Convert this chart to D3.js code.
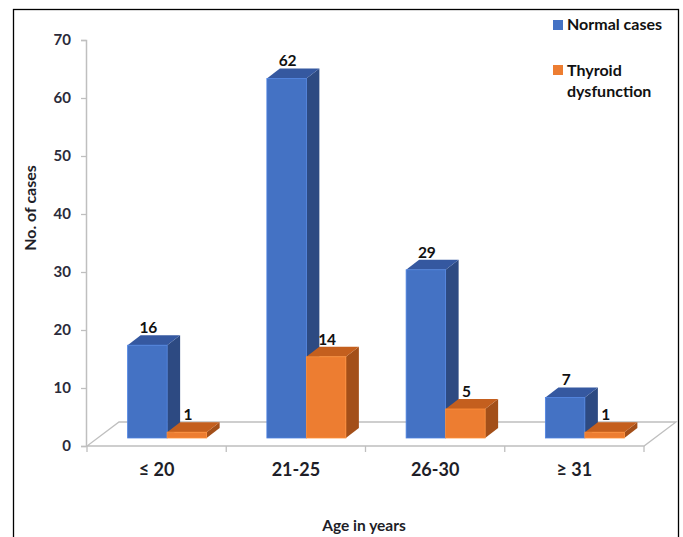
<!DOCTYPE html>
<html>
<head>
<meta charset="utf-8">
<script src="https://cdn.jsdelivr.net/npm/d3@7/dist/d3.min.js"></script>
<style>
  html, body { margin: 0; padding: 0; background: #fff; }
  svg { display: block; font-family: Lato, "Open Sans", sans-serif; font-weight: bold; }
</style>
</head>
<body>
<svg id="chart" width="683" height="537"></svg>
<script>
// Age groups and case counts
const categories = ["≤ 20", "21-25", "26-30", "≥ 31"];
const normalCases = [16, 62, 29, 7];
const thyroidDysfunction = [1, 14, 5, 1];
const seriesNames = ["Normal cases", "Thyroid dysfunction"];
const yTicks = [0, 10, 20, 30, 40, 50, 60, 70];

const svg = d3.select("#chart");

// Frame around the chart
svg.append("rect")
  .attr("x", 13.5).attr("y", 9.5)
  .attr("width", 665).attr("height", 540)
  .attr("fill", "none").attr("stroke", "#000").attr("stroke-width", 1.3);

const plot = { left: 87, right: 644, top: 40, bottom: 446 };
const depth = { dx: 32, dy: -24 };      // floor depth projection
const barOff = { dx: 10.5, dy: -8 };    // bars sit one third into the floor
const barDepth = { dx: 13, dy: -10 };   // depth of each column

const x = d3.scaleBand().domain(categories).range([plot.left, plot.right]);
const y = d3.scaleLinear().domain([0, 70]).range([plot.bottom, plot.top]);

// Floor of the 3D plot
const floor = [
  [plot.left, plot.bottom],
  [plot.right, plot.bottom],
  [plot.right + depth.dx, plot.bottom + depth.dy],
  [plot.left + depth.dx, plot.bottom + depth.dy]
];
svg.append("polygon")
  .attr("points", floor.map(p => p.join(",")).join(" "))
  .attr("fill", "#fff").attr("stroke", "#bfbfbf").attr("stroke-width", 1.3);

// Value axis
const yAxis = d3.axisLeft(y).tickValues(yTicks).tickSize(5).tickPadding(10);
const gy = svg.append("g").attr("transform", `translate(${plot.left - 1},0)`).call(yAxis);
gy.select(".domain").attr("stroke", "#bfbfbf").attr("stroke-width", 1.5);
gy.selectAll(".tick line").attr("stroke", "#bfbfbf").attr("stroke-width", 1.3);
gy.selectAll(".tick text")
  .attr("fill", "#2b2b3a").attr("font-size", 15).attr("font-weight", "bold")
  .attr("font-family", "Lato, sans-serif");

// Category axis
const xAxis = d3.axisBottom(x).tickSize(0).tickPadding(17);
const gx = svg.append("g").attr("transform", `translate(0,${plot.bottom})`).call(xAxis);
gx.select(".domain").remove();
gx.selectAll(".tick text")
  .attr("fill", "#1e1e28").attr("font-size", 18).attr("font-weight", "bold")
  .attr("font-family", "Lato, sans-serif");
const boundaries = categories.map(c => x(c)).concat([plot.right]);
svg.append("g").selectAll("line").data(boundaries).join("line")
  .attr("x1", d => d).attr("x2", d => d)
  .attr("y1", plot.bottom).attr("y2", plot.bottom + 6)
  .attr("stroke", "#bfbfbf").attr("stroke-width", 1.3);

// Columns
const barW = 39.5;
const colours = [
  { front: "#4472c4", top: "#3558a0", side: "#2d4a82" },
  { front: "#ed7d31", top: "#c45f1e", side: "#a34f19" }
];
const seriesValues = [normalCases, thyroidDysfunction];

function column(g, x0, v, c) {
  const x1 = x0 + barW;
  const yb = y(0) + barOff.dy;
  const yt = y(v) + barOff.dy;
  const dx = barDepth.dx, dy = barDepth.dy;
  g.append("polygon")
    .attr("points", [[x1, yb], [x1 + dx, yb + dy], [x1 + dx, yt + dy], [x1, yt]].map(p => p.join(",")).join(" "))
    .attr("fill", c.side);
  g.append("polygon")
    .attr("points", [[x0, yt], [x1, yt], [x1 + dx, yt + dy], [x0 + dx, yt + dy]].map(p => p.join(",")).join(" "))
    .attr("fill", c.top);
  g.append("rect")
    .attr("x", x0).attr("y", yt).attr("width", barW).attr("height", yb - yt)
    .attr("fill", c.front).attr("stroke", d3.color(c.front).brighter(0.4)).attr("stroke-width", 0.8);
  g.append("text")
    .attr("x", x0 + barW / 2 + 1).attr("y", yt - 12)
    .attr("text-anchor", "middle").attr("font-size", 15.5).attr("fill", "#111")
    .text(v);
}

const bars = svg.append("g");
categories.forEach((cat, i) => {
  const start = x(cat) + x.bandwidth() / 2 + barOff.dx - barW;
  seriesValues.forEach((vals, s) => {
    column(bars, start + s * barW, vals[i], colours[s]);
  });
});

// Axis titles
svg.append("text")
  .attr("transform", "translate(36,208) rotate(-90)")
  .attr("text-anchor", "middle").attr("font-size", 16).attr("fill", "#1e1e28")
  .text("No. of cases");
svg.append("text")
  .attr("x", 364).attr("y", 531)
  .attr("text-anchor", "middle").attr("font-size", 15.5).attr("fill", "#1e1e28")
  .text("Age in years");

// Legend
const legend = svg.append("g");
legend.append("rect").attr("x", 553).attr("y", 20).attr("width", 10).attr("height", 10).attr("fill", colours[0].front);
legend.append("text").attr("x", 567).attr("y", 30).attr("font-size", 16).attr("fill", "#111").text(seriesNames[0]);
legend.append("rect").attr("x", 553).attr("y", 65).attr("width", 10).attr("height", 10).attr("fill", colours[1].front);
const t2 = legend.append("text").attr("x", 567).attr("y", 76).attr("font-size", 16).attr("fill", "#111");
t2.append("tspan").attr("x", 567).text("Thyroid");
t2.append("tspan").attr("x", 567).attr("dy", 21).text("dysfunction");
</script>
</body>
</html>
